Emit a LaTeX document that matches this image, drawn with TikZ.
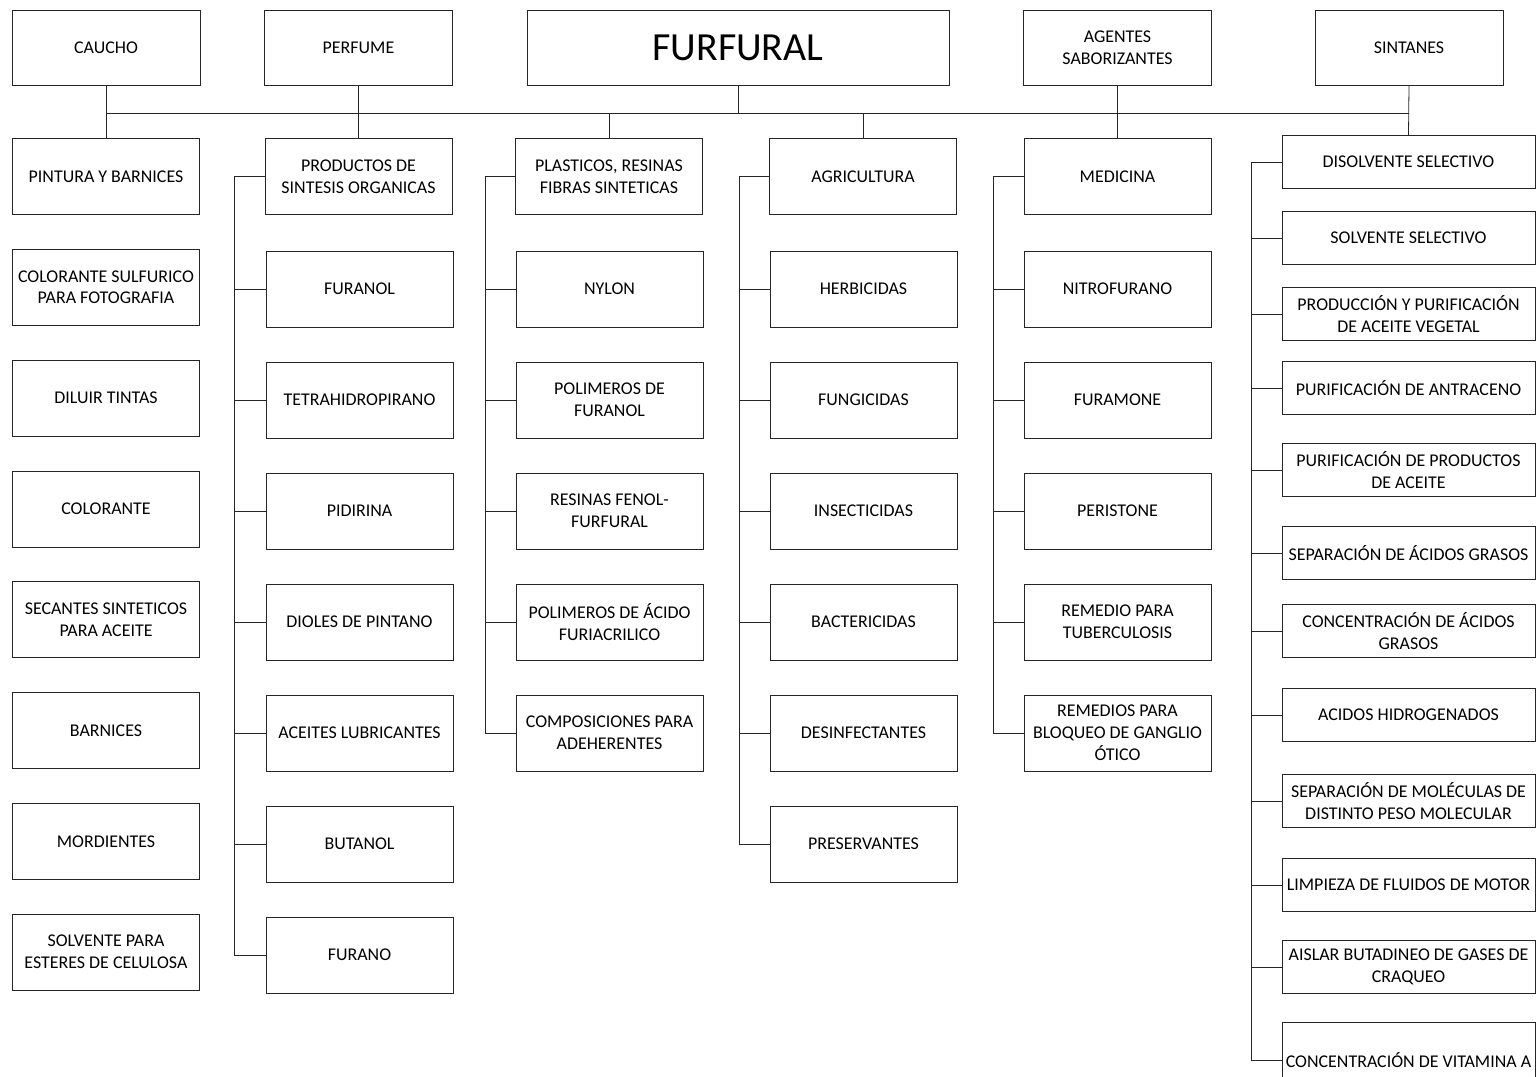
\documentclass[tikz,border=0pt]{standalone}
\usepackage{fontspec}
\setmainfont{Carlito}
\usetikzlibrary{positioning,calc}
\tikzset{
  link/.style={draw=black!85, line width=0.45pt},
  basebox/.style={link, align=center, inner sep=1pt, font=\fontsize{10.2}{12.4}\selectfont},
  topbox/.style={basebox, minimum width=3.76cm, minimum height=1.5cm},
  itembox/.style={basebox, minimum width=3.74cm, minimum height=1.52cm},
  widebox/.style={basebox, minimum width=5.06cm, minimum height=1.06cm}
}

\begin{document}
\begin{tikzpicture}[x=0.02cm, y=-0.02cm]
  \useasboundingbox (0,0) rectangle (1536,1076);
  % top row
  \node[topbox] (caucho) at (106,47.5) {CAUCHO};
  \node[topbox] (perfume) at (358.5,47.5) {PERFUME};
  \node[topbox, minimum width=8.44cm, font=\fontsize{22.7}{27}\selectfont] (furfural) at (738,47.5) {FURFURAL};
  \node[topbox] (agentes) at (1117.5,47.5) {AGENTES\\SABORIZANTES};
  \node[topbox] (sintanes) at (1409,47.5) {SINTANES};
  \coordinate (bus) at (738,113);

  % caucho column
  \foreach \txt [count=\i] in {{PINTURA Y BARNICES},{COLORANTE SULFURICO\\PARA FOTOGRAFIA},
      {DILUIR TINTAS},{COLORANTE},{SECANTES SINTETICOS\\PARA ACEITE},{BARNICES},
      {MORDIENTES},{SOLVENTE PARA\\ESTERES DE CELULOSA}}
    \node[itembox] (c\i) at (106,{176.5+110.8*(\i-1)}) {\txt};

  % second row heads
  \node[itembox] (prod) at (358.5,176.5) {PRODUCTOS DE\\SINTESIS ORGANICAS};
  \node[itembox] (plas) at (609,176.5) {PLASTICOS, RESINAS\\FIBRAS SINTETICAS};
  \node[itembox] (agri) at (863,176.5) {AGRICULTURA};
  \node[itembox] (med) at (1117.5,176.5) {MEDICINA};

  % children
  \foreach \txt [count=\i] in {{FURANOL},{TETRAHIDROPIRANO},{PIDIRINA},{DIOLES DE PINTANO},
      {ACEITES LUBRICANTES},{BUTANOL},{FURANO}}
    \node[itembox] (p\i) at (359.5,{289+111*(\i-1)}) {\txt};
  \foreach \txt [count=\i] in {{NYLON},{POLIMEROS DE\\FURANOL},{RESINAS FENOL-\\FURFURAL},
      {POLIMEROS DE ÁCIDO\\FURIACRILICO},{COMPOSICIONES PARA\\ADEHERENTES}}
    \node[itembox] (q\i) at (609.5,{289+111*(\i-1)}) {\txt};
  \foreach \txt [count=\i] in {{HERBICIDAS},{FUNGICIDAS},{INSECTICIDAS},{BACTERICIDAS},
      {DESINFECTANTES},{PRESERVANTES}}
    \node[itembox] (a\i) at (863.5,{289+111*(\i-1)}) {\txt};
  \foreach \txt [count=\i] in {{NITROFURANO},{FURAMONE},{PERISTONE},{REMEDIO PARA\\TUBERCULOSIS},
      {REMEDIOS PARA\\BLOQUEO DE GANGLIO\\ÓTICO}}
    \node[itembox] (m\i) at (1117.5,{289+111*(\i-1)}) {\txt};

  % sintanes column
  \foreach \txt/\yy [count=\i] in {{DISOLVENTE SELECTIVO}/162,{SOLVENTE SELECTIVO}/238,
      {PRODUCCIÓN Y PURIFICACIÓN\\DE ACEITE VEGETAL}/314,{PURIFICACIÓN DE ANTRACENO}/388,
      {PURIFICACIÓN DE PRODUCTOS\\DE ACEITE}/470,{SEPARACIÓN DE ÁCIDOS GRASOS}/553,
      {CONCENTRACIÓN DE ÁCIDOS\\GRASOS}/631,{ACIDOS HIDROGENADOS}/715,
      {SEPARACIÓN DE MOLÉCULAS DE\\DISTINTO PESO MOLECULAR}/801,
      {LIMPIEZA DE FLUIDOS DE MOTOR}/885,{AISLAR BUTADINEO DE GASES DE\\CRAQUEO}/967}
    \node[widebox] (s\i) at (1408.5,\yy) {\txt};
  \node[widebox, minimum height=1.5cm] (s12) at (1408.5,1060) {CONCENTRACIÓN DE VITAMINA A};

  % main bus
  \draw[link] (furfural.south) -- (bus);
  \draw[link] (caucho.south |- bus) -- (sintanes.south |- bus);
  \draw[link] (caucho.south) -- (c1.north);
  \draw[link] (perfume.south) -- (prod.north);
  \draw[link] (plas.north) -- (plas.north |- bus);
  \draw[link] (agri.north) -- (agri.north |- bus);
  \draw[link] (agentes.south) -- (med.north);
  \draw[link] (sintanes.south) -- (s1.north);

  % side spines
  \draw[link] (prod.west) -- ++(-30,0) coordinate (sp) |- (p7.west);
  \foreach \i in {1,...,6} \draw[link] (sp |- p\i.west) -- (p\i.west);
  \draw[link] (plas.west) -- ++(-30,0) coordinate (sq) |- (q5.west);
  \foreach \i in {1,...,4} \draw[link] (sq |- q\i.west) -- (q\i.west);
  \draw[link] (agri.west) -- ++(-30,0) coordinate (sa) |- (a6.west);
  \foreach \i in {1,...,5} \draw[link] (sa |- a\i.west) -- (a\i.west);
  \draw[link] (med.west) -- ++(-30,0) coordinate (sm) |- (m5.west);
  \foreach \i in {1,...,4} \draw[link] (sm |- m\i.west) -- (m\i.west);
  \draw[link] (s1.west) -- ++(-30,0) coordinate (ss) |- (s12.west);
  \foreach \i in {2,...,11} \draw[link] (ss |- s\i.west) -- (s\i.west);
\end{tikzpicture}
\end{document}
